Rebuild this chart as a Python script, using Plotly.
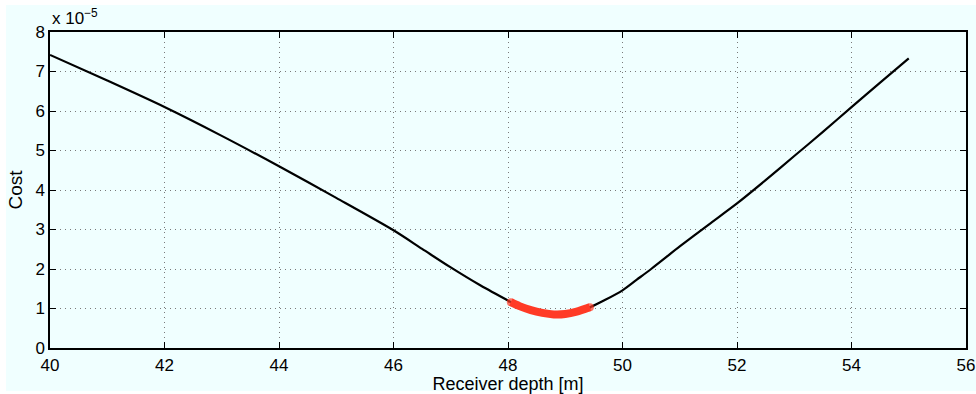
import plotly.graph_objects as go

# Data (cost in units of 1e-5)
depth = [40, 41, 42, 43, 44, 45, 46, 46.5, 47, 47.5, 48, 48.05, 48.2, 48.4, 48.6, 48.8,
         49.0, 49.2, 49.43, 49.7, 50, 50.25, 50.5, 51, 51.5, 52, 52.5, 53, 53.5, 54, 54.5, 55]
cost = [7.42, 6.77, 6.10, 5.37, 4.60, 3.80, 2.98, 2.51, 2.04, 1.60, 1.20, 1.16, 1.06, 0.96, 0.89, 0.85,
        0.86, 0.92, 1.03, 1.22, 1.46, 1.73, 2.00, 2.57, 3.12, 3.66, 4.25, 4.86, 5.47, 6.10, 6.72, 7.33]

best_depth = [48.05, 48.2, 48.4, 48.6, 48.8, 49.0, 49.2, 49.43]
best_cost = [1.16, 1.06, 0.96, 0.89, 0.85, 0.86, 0.92, 1.03]

x_ticks = [40, 42, 44, 46, 48, 50, 52, 54, 56]
y_ticks = [0, 1, 2, 3, 4, 5, 6, 7, 8]

BG = "#F0FFFF"
FONT = "Liberation Sans, Arial, Helvetica, sans-serif"

fig = go.Figure()
fig.add_trace(go.Scatter(x=depth, y=cost, mode="lines",
                         line=dict(color="black", width=2.2, shape="spline", smoothing=0.8),
                         showlegend=False))
end_sizes = [8] + [0] * (len(best_depth) - 2) + [8]
fig.add_trace(go.Scatter(x=best_depth, y=best_cost, mode="lines+markers",
                         line=dict(color="#FF3B26", width=8, shape="spline", smoothing=0.6),
                         marker=dict(color="#FF3B26", size=end_sizes, line=dict(width=0)),
                         showlegend=False))

W, H = 976, 394
ml, mr, mt, mb = 50, 10, 32, 46
pw, ph = W - ml - mr, H - mt - mb

# cyan figure panel with thin white border (in paper coords relative to plot area)
fig.add_shape(type="rect", xref="paper", yref="paper", layer="below",
              x0=(6 - ml) / pw, x1=(W - ml) / pw,
              y0=(ph - (391 - mt)) / ph, y1=(ph - (5 - mt)) / ph,
              fillcolor=BG, line=dict(width=0))

axis_common = dict(showline=True, linecolor="black", linewidth=1.5, mirror="allticks",
                   ticks="inside", ticklen=6, tickcolor="black", tickwidth=1,
                   showgrid=True, gridcolor="#7a7a7a", griddash="1px,4px", gridwidth=1,
                   zeroline=False, tickfont=dict(family=FONT, size=17, color="black"))

fig.update_xaxes(range=[40, 56], tickvals=x_ticks, ticktext=[str(v) for v in x_ticks],
                 title=dict(text="Receiver depth [m]", font=dict(family=FONT, size=18, color="black"),
                            standoff=2),
                 ticklabelstandoff=1, **axis_common)
fig.update_yaxes(range=[0, 8], tickvals=y_ticks, ticktext=[str(v) for v in y_ticks],
                 title=dict(text="Cost", font=dict(family=FONT, size=19, color="black"),
                            standoff=8),
                 **axis_common)

fig.add_annotation(xref="paper", yref="paper", x=0, y=1.005, xanchor="left", yanchor="bottom",
                   text="x 10<sup>−5</sup>", showarrow=False,
                   font=dict(family=FONT, size=17, color="black"))

fig.update_layout(width=W, height=H, margin=dict(l=ml, r=mr, t=mt, b=mb, autoexpand=False),
                  paper_bgcolor="white", plot_bgcolor=BG, font=dict(family=FONT))

fig.write_html("out.html")
